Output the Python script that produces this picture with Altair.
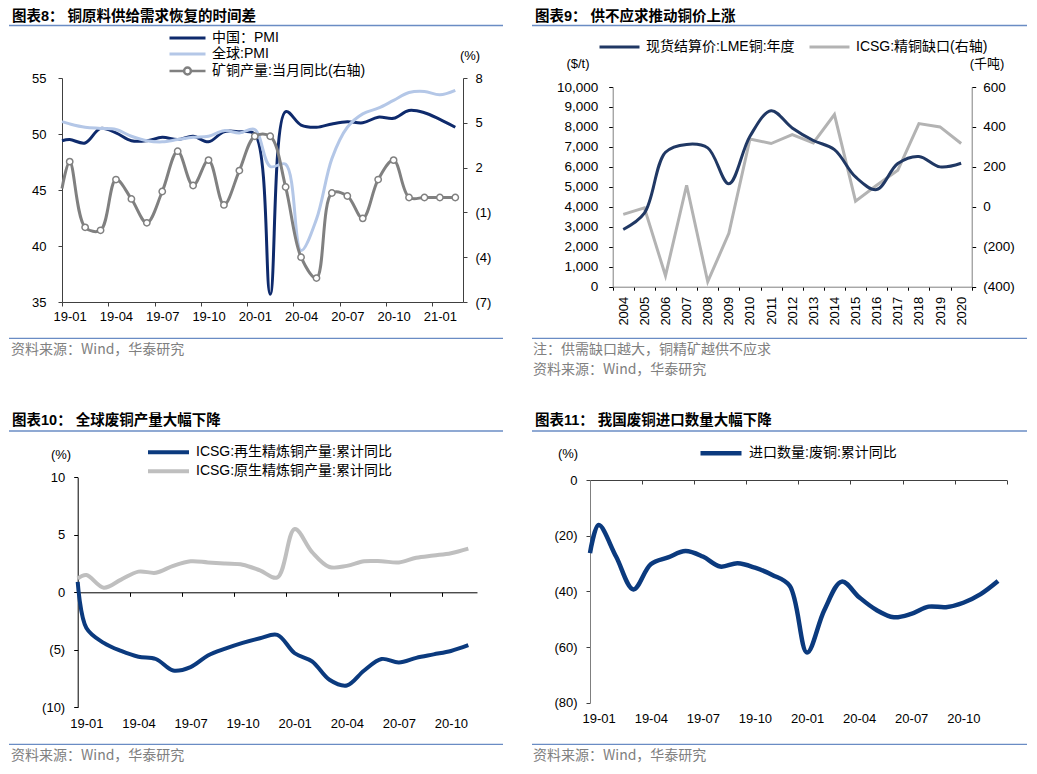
import json
import altair as alt
import pandas as pd

PT = 6                      # top padding of the chart
W, H = 1021, 750


def GX(v):
    # page pixel -> chart group pixel (8px page margin)
    return v - 8


def GY(v):
    return v - 8 - PT


LATIN = "Liberation Sans, Noto Sans CJK SC, sans-serif"
CJK = "Noto Sans CJK SC, Liberation Sans, sans-serif"
RULE_BLUE = "#6a8cc4"
SRC_GRAY = "#808080"

# ---------------- Panel 8 data ----------------
p8_title = "图表8： 铜原料供给需求恢复的时间差"
p8_names = ["中国：PMI", "全球:PMI", "矿铜产量:当月同比(右轴)"]
p8_months = [0] + [i + 0.5 for i in range(26)]
china_pmi = [49.4, 49.5, 49.2, 50.5, 50.1, 49.4, 49.4, 49.7, 49.5, 49.8, 49.3, 50.2, 50.2,
             50.0, 35.7, 52.0, 50.8, 50.6, 50.9, 51.1, 51.0, 51.5, 51.4, 52.1, 51.9, 51.3, 50.6]
global_pmi = [51.1, 50.9, 50.6, 50.5, 50.4, 49.8, 49.4, 49.3, 49.5, 49.7, 49.8, 50.3, 50.1,
              50.4, 47.1, 47.3, 39.6, 42.4, 47.8, 50.6, 51.8, 52.3, 53.0, 53.7, 53.8, 53.5, 53.9]
mine_yoy = [0.6, 2.4, -2.0, -2.2, 1.2, -0.1, -1.7, 0.4, 3.1, 0.8, 2.5, -0.5, 1.8,
            4.1, 4.1, 0.7, -4.0, -5.4, 0.3, 0.1, -1.4, 1.2, 2.5, 0.0, 0.0, 0.0, 0.0]
p8_ticks = [0, 3, 6, 9, 12, 15, 18, 21, 24]
p8_labels = ["19-01", "19-04", "19-07", "19-10", "20-01", "20-04", "20-07", "20-10", "21-01"]
p8_left_ticks = [35, 40, 45, 50, 55]
p8_right_ticks = [-7, -4, -1, 2, 5, 8]

# ---------------- Panel 9 data ----------------
p9_title = "图表9： 供不应求推动铜价上涨"
p9_names = ["现货结算价:LME铜:年度", "ICSG:精铜缺口(右轴)"]
years = [str(y) for y in range(2004, 2021)]
lme_price = [2866, 3679, 6731, 7126, 6952, 5150, 7535, 8811, 7950, 7322, 6862, 5494, 4863,
             6166, 6523, 6000, 6181]
icsg_gap = [-38, -5, -345, 108, -375, -133, 340, 317, 362, 320, 462, 28, 108, 183, 417, 400, 317]
p9_left_ticks = list(range(0, 10001, 1000))
p9_right_ticks = [-400, -200, 0, 200, 400, 600]
p9_note = "注：供需缺口越大，铜精矿越供不应求"

# ---------------- Panel 10 data ----------------
p10_title = "图表10： 全球废铜产量大幅下降"
p10_names = ["ICSG:再生精炼铜产量:累计同比", "ICSG:原生精炼铜产量:累计同比"]
p10_months = [0] + [i + 0.5 for i in range(23)]
recycled_yoy = [0.9, -3.1, -4.4, -5.1, -5.6, -5.8, -6.8, -6.5, -5.5, -4.9, -4.4, -4.0, -3.7,
                -5.3, -6.0, -7.6, -8.1, -6.8, -5.8, -6.1, -5.7, -5.4, -5.1, -4.6]
primary_yoy = [1.2, 1.5, 0.4, 1.1, 1.8, 1.7, 2.3, 2.7, 2.6, 2.5, 2.4, 1.9, 1.3,
               5.5, 3.5, 2.2, 2.3, 2.7, 2.7, 2.6, 3.0, 3.2, 3.4, 3.8]
p10_ticks = [0, 3, 6, 9, 12, 15, 18, 21]
p10_labels = ["19-01", "19-04", "19-07", "19-10", "20-01", "20-04", "20-07", "20-10"]
p10_y_ticks = [-10, -5, 0, 5, 10]

# ---------------- Panel 11 data ----------------
p11_title = "图表11： 我国废铜进口数量大幅下降"
p11_name = "进口数量:废铜:累计同比"
p11_months = [0] + [i + 0.5 for i in range(24)]
scrap_import_yoy = [-26.3, -16.2, -27.5, -39.3, -30.3, -27.8, -25.5, -27.5, -31.1, -29.9, -31.5,
                    -34.1, -38.0, -62.0, -46.7, -36.5, -42.1, -46.7, -49.3, -48.1, -45.5, -45.7,
                    -44.1, -41.0, -36.3]
p11_ticks = [0, 3, 6, 9, 12, 15, 18, 21, 24]
p11_labels = ["19-01", "19-04", "19-07", "19-10", "20-01", "20-04", "20-07", "20-10", ""]
p11_y_ticks = [-80, -60, -40, -20, 0]

source = "资料来源：Wind，华泰研究"

PAREN = "datum.value < 0 ? '(' + abs(datum.value) + ')' : '' + datum.value"
PAREN_PAD = "datum.value < 0 ? '(' + abs(datum.value) + ')' : datum.value + '\u2008'"


def lab_expr(labels, step):
    return json.dumps(labels, ensure_ascii=False) + "[round(datum.value / %d)]" % step


def axis(**kw):
    base = dict(grid=False, title=None, labelFont=LATIN, labelFontSize=13, labelColor="#000000",
                domainWidth=1, tickWidth=1, labelOverlap=False, labelFlush=False, labelBound=False)
    base.update(kw)
    return alt.Axis(**base)


def legend(x, y, length, sw, rowh, direction="vertical", symbol="stroke", colpad=10):
    return alt.Legend(orient="none", legendX=GX(x), legendY=GY(y), direction=direction,
                      title=None, symbolType=symbol, symbolSize=length * length,
                      symbolStrokeWidth=sw, clipHeight=rowh, labelFont=LATIN, labelFontSize=14,
                      labelColor="#000000", labelOffset=5, labelLimit=500, padding=0,
                      rowPadding=0, columnPadding=colpad, symbolOpacity=1)


def text_layer(s, x, y, size=14, font=CJK, weight="normal", color="#000000", align="left"):
    return alt.Chart(pd.DataFrame({"t": [s]})).mark_text(
        align=align, baseline="middle", font=font, fontSize=size, fontWeight=weight, color=color
    ).encode(x=alt.value(GX(x)), y=alt.value(GY(y)), text="t:N")


def hline(x1, x2, y, color=RULE_BLUE, w=1.3):
    return alt.Chart(pd.DataFrame({"t": [0]})).mark_rule(color=color, strokeWidth=w).encode(
        x=alt.value(GX(x1)), x2=alt.value(GX(x2)), y=alt.value(GY(y)))


# ================= Panel 8 =================
X8 = alt.X("m:Q", scale=alt.Scale(domain=[0, 26], range=[GX(62), GX(463)], nice=False, zero=False),
           axis=axis(orient="bottom", offset=GY(302) - H, values=p8_ticks,
                     labelExpr=lab_expr(p8_labels, 3), labelOffset=7.7, tickSize=4,
                     labelPadding=4, domainColor="#404040", tickColor="#404040"))
Y8L = alt.Y("v:Q", scale=alt.Scale(domain=[35, 55], range=[GY(302), GY(78)], nice=False,
                                   zero=False),
            axis=axis(orient="left", offset=-GX(62), values=p8_left_ticks, tickSize=4,
                      labelPadding=12, domainColor="#404040", tickColor="#404040"))
Y8R = alt.Y("v:Q", scale=alt.Scale(domain=[-7, 8], range=[GY(302), GY(78)], nice=False,
                                   zero=False),
            axis=axis(orient="right", offset=GX(463) - W, values=p8_right_ticks, tickSize=4,
                      labelPadding=8, labelExpr=PAREN, domainColor="#404040", tickColor="#404040"))

df_pmi = pd.DataFrame({"m": p8_months * 2, "v": china_pmi + global_pmi,
                       "s": [p8_names[0]] * len(china_pmi) + [p8_names[1]] * len(global_pmi)})
df_mine = pd.DataFrame({"m": p8_months, "v": mine_yoy, "s": [p8_names[2]] * len(mine_yoy)})

pmi_lines = alt.Chart(df_pmi).mark_line(interpolate="catmull-rom", strokeWidth=3).encode(
    x=X8, y=Y8L,
    color=alt.Color("s:N", scale=alt.Scale(domain=p8_names[:2], range=["#0e2a6c", "#b4c7e7"]),
                    legend=legend(168, 30, 36, 3, 16)),
    detail="s:N")
mine_line = alt.Chart(df_mine).mark_line(interpolate="catmull-rom", strokeWidth=3).encode(
    x=X8, y=Y8R,
    color=alt.Color("s:N", scale=alt.Scale(domain=p8_names[2:], range=["#808080"]),
                    legend=legend(168, 63, 36, 2.5, 16,
                                  symbol="M-1,0L-0.19,0M0.19,0L1,0M0.19,0A0.19,0.19,0,1,1,-0.19,0"
                                         "A0.19,0.19,0,1,1,0.19,0Z")))
mine_pts = alt.Chart(df_mine).transform_filter("datum.m > 0").mark_point(
    shape="circle", filled=True, fill="white", stroke="#808080", strokeWidth=1.5, size=40,
    opacity=1).encode(x=X8, y=Y8R)
panel8 = alt.layer(pmi_lines, alt.layer(mine_line, mine_pts)).resolve_scale(
    y="independent", color="independent")

# ================= Panel 9 =================
X9 = alt.X("yr:N", sort=years, bandPosition=0.5,
           scale=alt.Scale(type="band", domain=years, range=[GX(612.7), GX(971.7)],
                           paddingInner=0, paddingOuter=0),
           axis=axis(orient="bottom", offset=GY(286.7) - H, tickBand="extent", labelAngle=270,
                     tickSize=3.5, labelPadding=6, domainColor="#808080", tickColor="#000000"))
Y9L = alt.Y("v:Q", scale=alt.Scale(domain=[0, 10000], range=[GY(286.7), GY(87)], nice=False),
            axis=axis(orient="left", offset=-GX(612.7), values=p9_left_ticks, format=",.0f",
                      tickSize=4, labelPadding=11, labelFontSize=13.5,
                      domainColor="#808080", tickColor="#000000"))
Y9R = alt.Y("v:Q", scale=alt.Scale(domain=[-400, 600], range=[GY(286.7), GY(87)], nice=False,
                                   zero=False),
            axis=axis(orient="right", offset=GX(971.7) - W, values=p9_right_ticks, labelExpr=PAREN,
                      tickSize=4, labelPadding=7, labelFontSize=13.5,
                      domainColor="#808080", tickColor="#000000"))
C9 = alt.Color("s:N", scale=alt.Scale(domain=p9_names, range=["#203864", "#b3b3b3"]),
               legend=legend(598, 39, 40, 3, 16, direction="horizontal", colpad=13))
df_lme = pd.DataFrame({"yr": years, "v": lme_price, "s": [p9_names[0]] * len(years)})
df_icsg = pd.DataFrame({"yr": years, "v": icsg_gap, "s": [p9_names[1]] * len(years)})
lme_line = alt.Chart(df_lme).mark_line(interpolate="catmull-rom", strokeWidth=3).encode(
    x=X9, y=Y9L, color=C9)
icsg_line = alt.Chart(df_icsg).mark_line(interpolate="linear", strokeWidth=3).encode(
    x=X9, y=Y9R, color=C9)
panel9 = alt.layer(icsg_line, lme_line).resolve_scale(y="independent")

# ================= Panel 10 =================
X10 = alt.X("m:Q", scale=alt.Scale(domain=[0, 23], range=[GX(77.7), GX(477)], nice=False,
                                   zero=False),
            axis=axis(orient="bottom", offset=GY(592.3) - H, values=p10_ticks,
                      labelExpr=lab_expr(p10_labels, 3), labelOffset=8.7, tickSize=4,
                      labelPadding=121, domainColor="#000000", tickColor="#000000"))
Y10 = alt.Y("v:Q", scale=alt.Scale(domain=[-10, 10], range=[GY(707.3), GY(477.3)], nice=False,
                                   zero=False),
            axis=axis(orient="left", offset=-GX(77.7), values=p10_y_ticks, labelExpr=PAREN_PAD,
                      tickSize=4, labelPadding=9, domainColor="#000000", tickColor="#000000"))
df_p10 = pd.DataFrame({"m": p10_months * 2, "v": recycled_yoy + primary_yoy,
                       "s": [p10_names[0]] * len(recycled_yoy) + [p10_names[1]] * len(primary_yoy)})
panel10 = alt.Chart(df_p10).mark_line(interpolate="catmull-rom", strokeWidth=4).encode(
    x=X10, y=Y10,
    color=alt.Color("s:N", scale=alt.Scale(domain=p10_names, range=["#0b3a7e", "#bfbfbf"]),
                    legend=legend(146, 443, 41, 4, 18.3)),
    detail="s:N")

# ================= Panel 11 =================
X11 = alt.X("m:Q", scale=alt.Scale(domain=[0, 24], range=[GX(590), GX(1006.7)], nice=False,
                                   zero=False),
            axis=axis(orient="bottom", offset=GY(480) - H, values=p11_ticks,
                      labelExpr=lab_expr(p11_labels, 3), labelOffset=8.7, tickSize=4,
                      labelPadding=228, domainColor="#404040", tickColor="#404040"))
Y11 = alt.Y("v:Q", scale=alt.Scale(domain=[-80, 0], range=[GY(702.7), GY(480)], nice=False,
                                   zero=False),
            axis=axis(orient="left", offset=-GX(590), values=p11_y_ticks, labelExpr=PAREN_PAD,
                      tickSize=4, labelPadding=9, domainColor="#7f7f7f", tickColor="#404040"))
df_p11 = pd.DataFrame({"m": p11_months, "v": scrap_import_yoy, "s": [p11_name] * len(p11_months)})
panel11 = alt.Chart(df_p11).mark_line(interpolate="catmull-rom", strokeWidth=4.5).encode(
    x=X11, y=Y11,
    color=alt.Color("s:N", scale=alt.Scale(domain=[p11_name], range=["#0b3a7e"]),
                    legend=legend(698, 445.3, 41, 4.5, 16)))

# ================= Decorations =================
decor = [
    text_layer(p8_title, 12, 17, size=14.5, font=LATIN, weight="bold"),
    text_layer(p9_title, 535, 17, size=14.5, font=LATIN, weight="bold"),
    text_layer(p10_title, 12, 420.5, size=14.5, font=LATIN, weight="bold"),
    text_layer(p11_title, 535, 420.5, size=14.5, font=LATIN, weight="bold"),
    hline(9, 503, 25.5), hline(532, 1027, 25.5), hline(9, 503, 431), hline(532, 1027, 431),
    hline(9, 503, 338.3), hline(532, 1027, 338.3), hline(9, 503, 744.3), hline(532, 1027, 744.3),
    text_layer(source, 11, 349.5, color=SRC_GRAY),
    text_layer(p9_note, 533, 350, color=SRC_GRAY),
    text_layer(source, 533, 369.5, color=SRC_GRAY),
    text_layer(source, 11, 756, color=SRC_GRAY),
    text_layer(source, 533, 756, color=SRC_GRAY),
    text_layer("(%)", 470, 56, size=13, font=LATIN, align="center"),
    text_layer("($/t)", 578, 63.5, size=13, font=LATIN, align="center"),
    text_layer("(千吨)", 987, 63.5, size=13, font=LATIN, align="center"),
    text_layer("(%)", 61, 455, size=13, font=LATIN, align="center"),
    text_layer("(%)", 568, 454, size=13, font=LATIN, align="center"),
]

chart = alt.layer(panel8, panel9, panel10, panel11, *decor).resolve_scale(
    x="independent", y="independent", color="independent"
).properties(
    width=W, height=H, padding={"left": 0, "top": PT, "right": 0, "bottom": 0},
    background="white", autosize=alt.AutoSizeParams(type="none")
).configure_view(stroke=None)

chart.save("out.html", embed_options={"renderer": "svg", "actions": False})
